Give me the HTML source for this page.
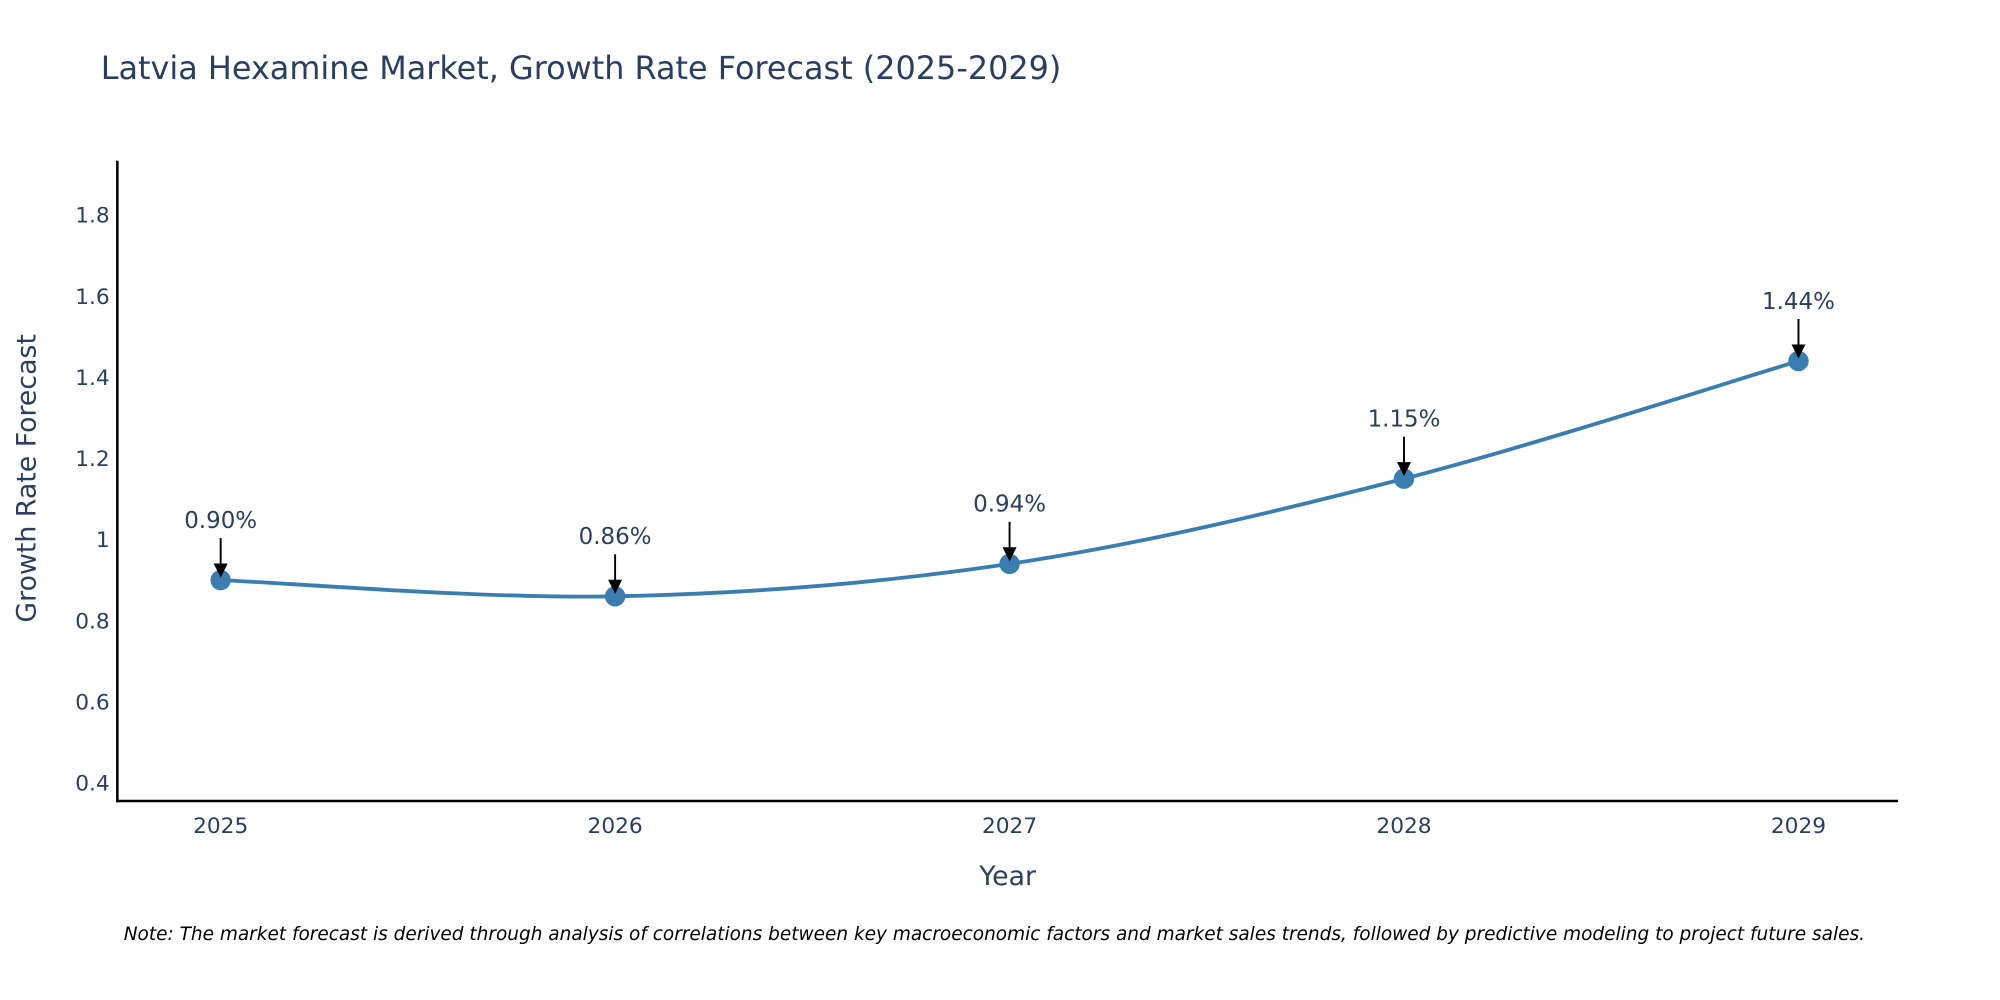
<!DOCTYPE html>
<html><head><meta charset="utf-8"><style>
html,body{margin:0;padding:0;background:#fff;overflow:hidden;}
svg{display:block;font-family:"DejaVu Sans","Liberation Sans",sans-serif;}
</style></head><body>
<svg id="chart" width="2000" height="1000" viewBox="0 0 1568 784" xmlns="http://www.w3.org/2000/svg">
<text x="79" y="62" font-size="25" fill="#2a3f5f">Latvia Hexamine Market, Growth Rate Forecast (2025-2029)</text>
<g id="yticks"></g>
<g id="xticks"></g>
<line x1="92" y1="126" x2="92" y2="629" stroke="#000" stroke-width="2"/>
<line x1="91" y1="628" x2="1488" y2="628" stroke="#000" stroke-width="2"/>
<text transform="translate(28,375) rotate(-90)" text-anchor="middle" font-size="21" fill="#2a3f5f">Growth Rate Forecast</text>
<text x="790" y="694" text-anchor="middle" font-size="21" fill="#2a3f5f">Year</text>
<path id="line" fill="none" stroke="#3a7eb0" stroke-width="3"/>
<g id="points"></g>
<g id="annots"></g>
<text x="97" y="737" font-size="14.5" font-style="italic" fill="#000">Note: The market forecast is derived through analysis of correlations between key macroeconomic factors and market sales trends, followed by predictive modeling to project future sales.</text>
</svg>
<script>
const years = [2025, 2026, 2027, 2028, 2029];
const values = [0.90, 0.86, 0.94, 1.15, 1.44];
const valueLabels = ["0.90%", "0.86%", "0.94%", "1.15%", "1.44%"];
const yTicks = [0.4, 0.6, 0.8, 1, 1.2, 1.4, 1.6, 1.8];
const yTickLabels = ["0.4", "0.6", "0.8", "1", "1.2", "1.4", "1.6", "1.8"];

const NS = "http://www.w3.org/2000/svg";
function xS(yr){ return 173 + (yr - 2025) * 309.25; }
function yS(v){ return 423 - (v - 1) * 318; }
function mk(tag, attrs, parent){
  const e = document.createElementNS(NS, tag);
  for (const k in attrs) e.setAttribute(k, attrs[k]);
  parent.appendChild(e); return e;
}
const yg = document.getElementById('yticks');
yTicks.forEach((v,i)=>{
  const t = mk('text',{x:86,y:yS(v)+6,'text-anchor':'end','font-size':17,fill:'#2a3f5f'},yg);
  
  
  t.textContent = yTickLabels[i];
});
const xg = document.getElementById('xticks');
years.forEach(yr=>{
  const t = mk('text',{x:xS(yr),y:653,'text-anchor':'middle','font-size':17,fill:'#2a3f5f'},xg);
  
  
  t.textContent = String(yr);
});
const pts = years.map((yr,i)=>[xS(yr), yS(values[i])]);
let d = `M${pts[0][0]},${pts[0][1]}`;
for (let i=0;i<pts.length-1;i++){
  const p0 = pts[i-1]||pts[i], p1=pts[i], p2=pts[i+1], p3=pts[i+2]||pts[i+1];
  const c1=[p1[0]+(p2[0]-p0[0])/6, p1[1]+(p2[1]-p0[1])/6];
  const c2=[p2[0]-(p3[0]-p1[0])/6, p2[1]-(p3[1]-p1[1])/6];
  d += ` C${c1[0]},${c1[1]} ${c2[0]},${c2[1]} ${p2[0]},${p2[1]}`;
}
document.getElementById('line').setAttribute('d', d);
const pg = document.getElementById('points'), ag = document.getElementById('annots');
pts.forEach((p,i)=>{
  const c = mk('circle',{cx:p[0],cy:p[1],r:8,fill:'#3a7eb0'},pg);
  
  
  const l = mk('line',{x1:p[0],y1:p[1]-33,x2:p[0],y2:p[1]-10,stroke:'#000','stroke-width':1.5},ag);
  
  
  const h = mk('polygon',{points:`${p[0]-5.5},${p[1]-13} ${p[0]+5.5},${p[1]-13} ${p[0]},${p[1]-2}`,fill:'#000'},ag);
  
  
  const t = mk('text',{x:p[0],y:p[1]-41,'text-anchor':'middle','font-size':18,fill:'#2a3f5f'},ag);
  
  
  t.textContent = valueLabels[i];
});
</script>
</body></html>
